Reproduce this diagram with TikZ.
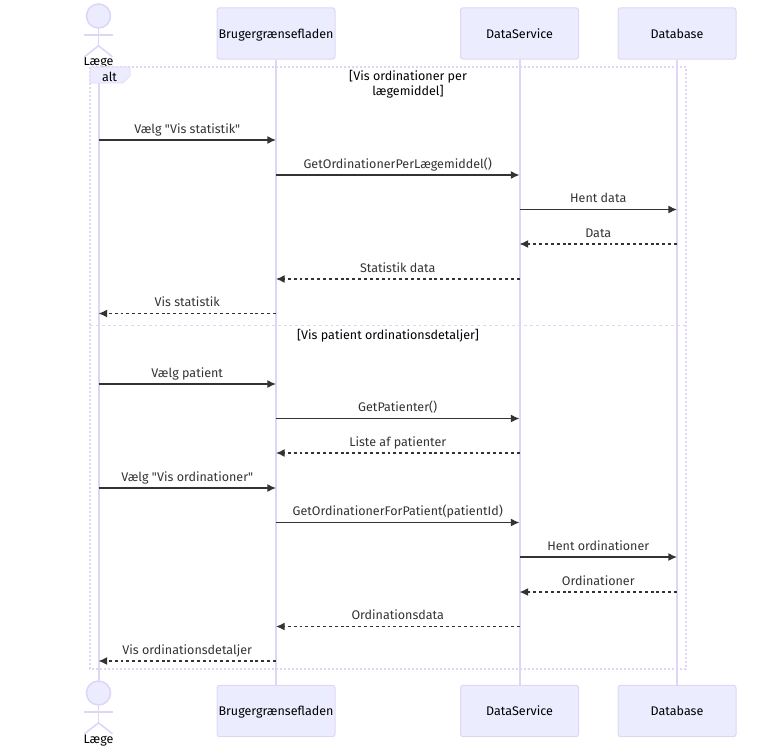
\documentclass[tikz,border=0pt]{standalone}
\usepackage{fontspec}
\setmainfont{Fira Sans}[Ligatures=TeXOff]
\usetikzlibrary{calc,arrows.meta}
\definecolor{boxfill}{HTML}{ECECFF}
\definecolor{boxline}{HTML}{DFD6F7}
\definecolor{ink}{HTML}{333333}
\tikzset{
  x=0.75pt,y=-0.75pt,
  txt/.style={font=\fontsize{9.4pt}{11.25pt}\selectfont,text=ink,inner sep=0pt},
  part/.style={draw=boxline,fill=boxfill,line width=0.75pt,rounded corners=2pt,minimum width=88.5pt,minimum height=38.6pt,inner sep=0pt,font=\fontsize{9.4pt}{11.25pt}\selectfont,text=black,text height=8pt,text depth=0.8pt},
  head/.style={circle,draw=boxline,fill=boxfill,line width=1.2pt,minimum size=18pt,inner sep=0pt},
  stick/.style={draw=boxline,line width=1.2pt},
  life/.style={draw=boxline,line width=1.5pt},
  frame/.style={draw=boxline,line width=1.5pt,dash pattern=on 1.5pt off 1.5pt},
  sepline/.style={draw=boxline,line width=1pt,dash pattern=on 2.2pt off 2.2pt},
  msg/.style={draw=ink,line width=1pt,-{Latex[length=6.5pt,width=6pt]}},
  reply/.style={msg,dash pattern=on 2.2pt off 2.2pt},
  lbl/.style={txt,above=2.1pt,midway,text height=7.5pt,text depth=2.4pt},
  actname/.style={font=\fontsize{9.4pt}{11.25pt}\selectfont,text=black,inner sep=0pt,text height=7.5pt,text depth=2.4pt},
}
\newcommand{\stickman}[1]{%
  \draw[stick] (#1.south) -- ++(0,17);
  \draw[stick] ($(#1.south)+(-14.5,6)$) -- ++(29,0);
  \draw[stick] ($(#1.south)+(0,17)$) -- ++(-14,11);
  \draw[stick] ($(#1.south)+(0,17)$) -- ++(14,11);
}
\begin{document}
\begin{tikzpicture}
\useasboundingbox (0,0) rectangle (784,753);
% participants
\node[head] (ahead) at (98.5,16) {};
\node[actname] (aname) at (98.5,62) {Læge};
\node[part] (bgt) at (276,33.5) {Brugergrænsefladen};
\node[part] (dst) at (519.5,33.5) {DataService};
\node[part] (dbt) at (677,33.5) {Database};
\node[head] (bhead) at (98.5,693) {};
\node[actname] (bname) at (98.5,740) {Læge};
\node[part] (bgb) at (276,711) {Brugergrænsefladen};
\node[part] (dsb) at (519.5,711) {DataService};
\node[part] (dbb) at (677,711) {Database};
\stickman{ahead}
\stickman{bhead}
% lifelines
\draw[life] (aname.south) -- (bhead.north);
\draw[life] (bgt.south) -- (bgb.north);
\draw[life] (dst.south) -- (dsb.north);
\draw[life] (dbt.south) -- (dbb.north);
% alt frame
\coordinate (fa) at (90,67);
\coordinate (fb) at (686,669);
\draw[frame] (fa) rectangle (fb);
\draw[sepline] (fa|-0,325.5) -- (fb|-0,325.5);
\draw[draw=boxline,fill=boxfill,line width=0.5pt] (fa) -- ++(40,0) -- ++(0,9) -- ++(-7,7) -- ++(-33,0) -- cycle;
\node[txt,text=black] (alttext) at (109.5,76.5) {alt};
\node[txt,text=black,align=center] (sec1) at (408,84) {[Vis ordinationer per\\lægemiddel]};
\node[txt,text=black] (sec2) at (388,336) {[Vis patient ordinationsdetaljer]};
% messages
\coordinate (m1) at (0,140);
\coordinate (m2) at (0,175);
\coordinate (m3) at (0,209.5);
\coordinate (m4) at (0,244);
\coordinate (m5) at (0,279);
\coordinate (m6) at (0,313.5);
\coordinate (m7) at (0,384);
\coordinate (m8) at (0,418.5);
\coordinate (m9) at (0,453);
\coordinate (m10) at (0,488);
\coordinate (m11) at (0,522.5);
\coordinate (m12) at (0,557);
\coordinate (m13) at (0,592);
\coordinate (m14) at (0,626.5);
\coordinate (m15) at (0,661);
\draw[msg] (ahead|-m1) -- node[lbl] {Vælg "Vis statistik"} (bgt|-m1);
\draw[msg] (bgt|-m2) -- node[lbl] {GetOrdinationerPerLægemiddel()} (dst|-m2);
\draw[msg] (dst|-m3) -- node[lbl] {Hent data} (dbt|-m3);
\draw[reply] (dbt|-m4) -- node[lbl] {Data} (dst|-m4);
\draw[reply] (dst|-m5) -- node[lbl] {Statistik data} (bgt|-m5);
\draw[reply] (bgt|-m6) -- node[lbl] {Vis statistik} (ahead|-m6);
\draw[msg] (ahead|-m7) -- node[lbl] {Vælg patient} (bgt|-m7);
\draw[msg] (bgt|-m8) -- node[lbl] {GetPatienter()} (dst|-m8);
\draw[reply] (dst|-m9) -- node[lbl] {Liste af patienter} (bgt|-m9);
\draw[msg] (ahead|-m10) -- node[lbl] {Vælg "Vis ordinationer"} (bgt|-m10);
\draw[msg] (bgt|-m11) -- node[lbl] {GetOrdinationerForPatient(patientId)} (dst|-m11);
\draw[msg] (dst|-m12) -- node[lbl] {Hent ordinationer} (dbt|-m12);
\draw[reply] (dbt|-m13) -- node[lbl] {Ordinationer} (dst|-m13);
\draw[reply] (dst|-m14) -- node[lbl] {Ordinationsdata} (bgt|-m14);
\draw[reply] (bgt|-m15) -- node[lbl] {Vis ordinationsdetaljer} (ahead|-m15);
\end{tikzpicture}
\end{document}
